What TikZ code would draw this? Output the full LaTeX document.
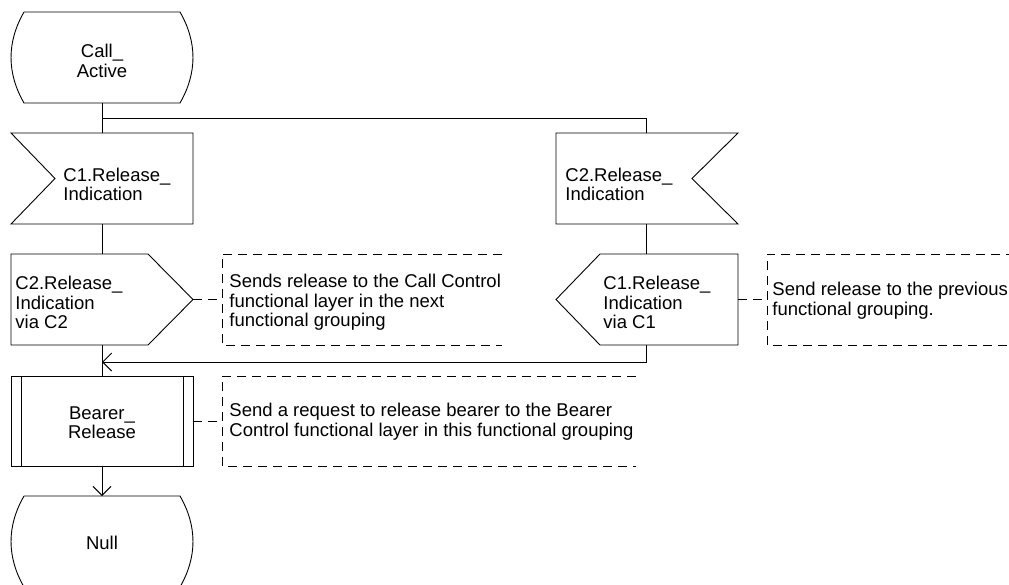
\documentclass[tikz,border=0pt]{standalone}
\usepackage{fontspec}
\setmainfont{Liberation Sans}
\usetikzlibrary{arrows.meta}
\begin{document}
\begin{tikzpicture}[x=1pt,y=-1pt,
  line width=0.9pt,
  flow/.style={draw=black},
  arr/.style={draw=black,-{Straight Barb[length=9pt,width=18pt]}},
  cmt/.style={draw=black,dash pattern=on 9pt off 6pt},
  txt/.style={inner sep=0pt,font=\fontsize{18.5}{19.5}\selectfont},
  ltxt/.style={txt,align=left,anchor=west},
  ctxt/.style={txt,align=center}]
\useasboundingbox (0,0) rectangle (1009,584);
\clip (0,0) rectangle (1009,584);
% ---------- left column ----------
% Call_Active state
\draw[flow] (24,12) -- (180,12) .. controls (197.3,42) and (197.3,73) .. (180,103)
  -- (24,103) .. controls (6.7,73) and (6.7,42) .. (24,12);
\node[ctxt] (callactive) at (102,61) {Call\_\\Active};
\coordinate (ca-s) at (102,103);
\coordinate (branch) at (102,118);
% C1.Release_Indication input
\draw[flow] (11,133) -- (193,133) -- (193,224) -- (11,224) -- (55,178.5) -- cycle;
\node[ltxt] (c1in) at (63,184.5) {C1.Release\_\\Indication};
\coordinate (c1in-n) at (102,133);
\coordinate (c1in-s) at (102,224);
% C2.Release_Indication via C2 output
\draw[flow] (11,254) -- (148,254) -- (193,299.5) -- (148,345) -- (11,345) -- cycle;
\node[ltxt] (c2out) at (15,302.5) {C2.Release\_\\Indication\\via C2};
\coordinate (c2out-n) at (102,254);
\coordinate (c2out-s) at (102,345);
\coordinate (c2out-e) at (193,299.5);
% Bearer_Release procedure
\draw[flow] (11,376) rectangle (193,466);
\draw[flow] (21,376) -- (21,466) (183,376) -- (183,466);
\node[ctxt] (bearer) at (102,422.5) {Bearer\_\\Release};
\coordinate (br-n) at (102,376);
\coordinate (br-s) at (102,466);
\coordinate (br-e) at (193,421);
% Null state
\draw[flow] (24,496) -- (180,496) .. controls (197.3,526) and (197.3,557) .. (180,587)
  -- (24,587) .. controls (6.7,557) and (6.7,526) .. (24,496);
\node[ctxt] (null) at (102,543) {Null};
\coordinate (null-n) at (102,496);
\coordinate (merge) at (102,362);
% ---------- right column ----------
\draw[flow] (556,133) -- (738,133) -- (692,178.5) -- (738,224) -- (556,224) -- cycle;
\node[ltxt] (c2in) at (565,184.5) {C2.Release\_\\Indication};
\coordinate (c2in-n) at (646,133);
\coordinate (c2in-s) at (646,224);
\draw[flow] (556,299.5) -- (600,254) -- (738,254) -- (738,345) -- (600,345) -- cycle;
\node[ltxt] (c1out) at (603,302.5) {C1.Release\_\\Indication\\via C1};
\coordinate (c1out-n) at (646,254);
\coordinate (c1out-s) at (646,345);
\coordinate (c1out-e) at (738,299.5);
% ---------- connectors ----------
\draw[flow] (ca-s) -- (c1in-n);
\draw[flow] (branch) -| (c2in-n);
\draw[flow] (c1in-s) -- (c2out-n);
\draw[flow] (c2out-s) -- (br-n);
\draw[flow] (c2in-s) -- (c1out-n);
\draw[arr] (c1out-s) |- (merge);
\draw[arr] (br-s) -- (null-n);
% ---------- comments ----------
\coordinate (cm1-a) at (222,299.5);
\draw[cmt] (c2out-e) -- (cm1-a);
\draw[cmt] (502,254) -- (222,254) -- (222,345) -- (502,345);
\node[ltxt] (cm1) at (229,302.5) {Sends release to the Call Control\\functional layer in the next\\functional grouping};
\coordinate (cm2-a) at (767,299.5);
\draw[cmt] (c1out-e) -- (cm2-a);
\draw[cmt] (1015,254) -- (767,254) -- (767,345) -- (1015,345);
\node[ltxt] (cm2) at (772,300.5) {Send release to the previous\\functional grouping.};
\coordinate (cm3-a) at (222,421);
\draw[cmt] (br-e) -- (cm3-a);
\draw[cmt] (636,376) -- (222,376) -- (222,466) -- (636,466);
\node[ltxt] (cm3) at (229,421.5) {Send a request to release bearer to the Bearer\\Control functional layer in this functional grouping};
\end{tikzpicture}
\end{document}
